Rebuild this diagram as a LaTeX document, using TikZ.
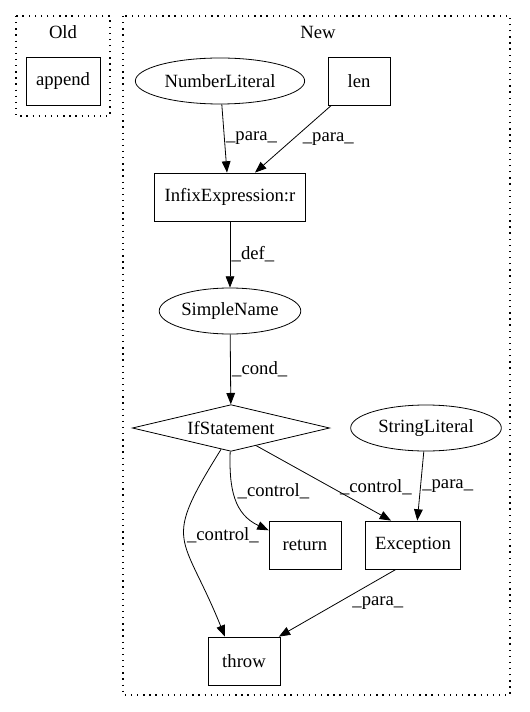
\documentclass[tikz,border=0pt]{standalone}
\usepackage{fontspec}
\setmainfont{Liberation Serif}
\usetikzlibrary{shapes.geometric,arrows.meta}

\begin{document}
\begin{tikzpicture}[x=0.75pt,y=-0.75pt,font=\fontsize{14pt}{16pt}\selectfont,
    box/.style={rectangle,draw=black,line width=0.6pt,minimum height=36pt,minimum width=54pt,inner xsep=7.5pt},
    ell/.style={ellipse,draw=black,line width=0.6pt,minimum height=34.5pt,inner xsep=1pt},
    dia/.style={diamond,draw=black,line width=0.6pt,minimum width=148pt,minimum height=35pt,aspect=4.2,inner sep=0pt},
    clus/.style={draw=black,line width=0.8pt,dash pattern=on 1pt off 3.6pt},
    arr/.style={draw=black,line width=0.6pt,-{Triangle[length=8.5pt,width=6.5pt]}},
    lbl/.style={right,inner sep=1pt}]
   \useasboundingbox (0,0) rectangle (529,712);
   % clusters
   \draw[clus] (16,16) rectangle (110,116);
   \draw[clus] (123,16) rectangle (510,695);
   \node (old) at (63,32) {Old};
   \node (new) at (318,32) {New};
   % nodes
   \node[box] (append) at (63,81) {append};
   \node[ell,minimum width=127pt] (numlit) at (220,81) {NumberLiteral};
   \node[box,minimum width=46.5pt] (len) at (359,81) {len};
   \node[box] (infix) at (230,197) {InfixExpression:r};
   \node[ell,minimum width=94pt] (simple) at (230,311) {SimpleName};
   \node[dia] (if) at (231,428) {IfStatement};
   \node[ell,minimum width=113pt] (strlit) at (426,428) {StringLiteral};
   \node[box] (ret) at (305,545) {return};
   \node[box] (exc) at (413,545) {Exception};
   \node[box] (throw) at (244,661) {throw};
   % edges
   \draw[arr] (numlit) -- node[lbl]{\_para\_} (infix.north -| 227,0);
   \draw[arr] (len) -- node[lbl,xshift=6pt]{\_para\_} (infix.north -| 255,0);
   \draw[arr] (infix) -- node[lbl]{\_def\_} (simple);
   \draw[arr] (simple) -- node[lbl]{\_cond\_} (if);
   \draw[arr] (if.268) to[out=-92,in=155,looseness=1.1] node[lbl,pos=0.4,xshift=2pt]{\_control\_} (ret.158);
   \draw[arr] (if.-35) -- node[lbl,pos=0.55,xshift=6pt]{\_control\_} (exc.132);
   \draw[arr] (strlit) -- node[lbl]{\_para\_} (exc.80);
   \draw[arr] (if.245) to[out=238,in=112,looseness=1.55] node[lbl,pos=0.47,xshift=1pt]{\_control\_} (throw.128);
   \draw[arr] (exc.235) -- node[lbl,xshift=10pt]{\_para\_} (throw.35);
\end{tikzpicture}
\end{document}
